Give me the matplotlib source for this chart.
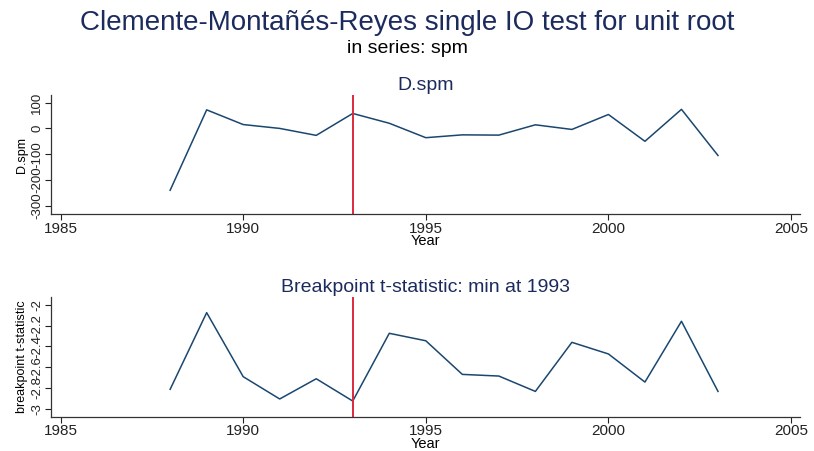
import numpy as np
import matplotlib.pyplot as plt

plt.rcParams['font.family'] = ['Liberation Sans', 'DejaVu Sans']

# data
years = np.arange(1988, 2004)
d_spm = [-240, 72, 15, 0, -27, 58, 20, -36, -25, -26, 14, -4, 54, -50, 74, -105]
t_stat = [-2.813, -2.074, -2.691, -2.906, -2.711, -2.926, -2.273, -2.345,
          -2.669, -2.685, -2.833, -2.360, -2.472, -2.743, -2.157, -2.833]
break_year = 1993

xticks = [1985, 1990, 1995, 2000, 2005]
yticks_top = [-300, -200, -100, 0, 100]
yticks_bot = [-3, -2.8, -2.6, -2.4, -2.2, -2]
ytick_labels_bot = ['-3', '-2.8', '-2.6', '-2.4', '-2.2', '-2']

navy = '#1a476f'
dknavy = '#1c2b5e'
red = '#dc2a3e'

fig = plt.figure(figsize=(8.14, 4.51), dpi=100)
fig.text(0.5, 0.948, 'Clemente-Montañés-Reyes single IO test for unit root',
         ha='center', va='center', fontsize=20, color=dknavy)
fig.text(0.5, 0.892, 'in series: spm', ha='center', va='center',
         fontsize=14, color='black')

ax1 = fig.add_axes([0.0623, 0.5255, 0.9207, 0.2635])
ax2 = fig.add_axes([0.0623, 0.076, 0.9207, 0.2648])


def style(ax, yticks, ylabels, ylabel, title, ylim):
    ax.set_xlim(1984.73, 2005.25)
    ax.set_ylim(*ylim)
    ax.set_xticks(xticks)
    ax.set_xticklabels([str(x) for x in xticks], fontsize=11)
    ax.set_yticks(yticks)
    ax.set_yticklabels(ylabels, fontsize=9.5, rotation=90, va='center')
    ax.tick_params(direction='out', length=4, width=0.8, pad=1.5, colors='#222222')
    for s in ['top', 'right']:
        ax.spines[s].set_visible(False)
    for s in ['left', 'bottom']:
        ax.spines[s].set_color('#333333')
        ax.spines[s].set_linewidth(0.9)
    ax.set_xlabel('Year', fontsize=10.5, labelpad=-1)
    ax.set_ylabel(ylabel, fontsize=9, labelpad=2)
    ax.set_title(title, fontsize=14, color=dknavy, pad=4)


ax1.plot(years, d_spm, color=navy, lw=1.1)
ax1.axvline(break_year, color=red, lw=1.4)
style(ax1, yticks_top, [str(v) for v in yticks_top], 'D.spm', 'D.spm', (-332, 129))

ax2.plot(years, t_stat, color=navy, lw=1.1)
ax2.axvline(break_year, color=red, lw=1.4)
style(ax2, yticks_bot, ytick_labels_bot, 'breakpoint t-statistic',
      'Breakpoint t-statistic: min at 1993', (-3.077, -1.926))

fig.savefig('out.png', dpi=100)
